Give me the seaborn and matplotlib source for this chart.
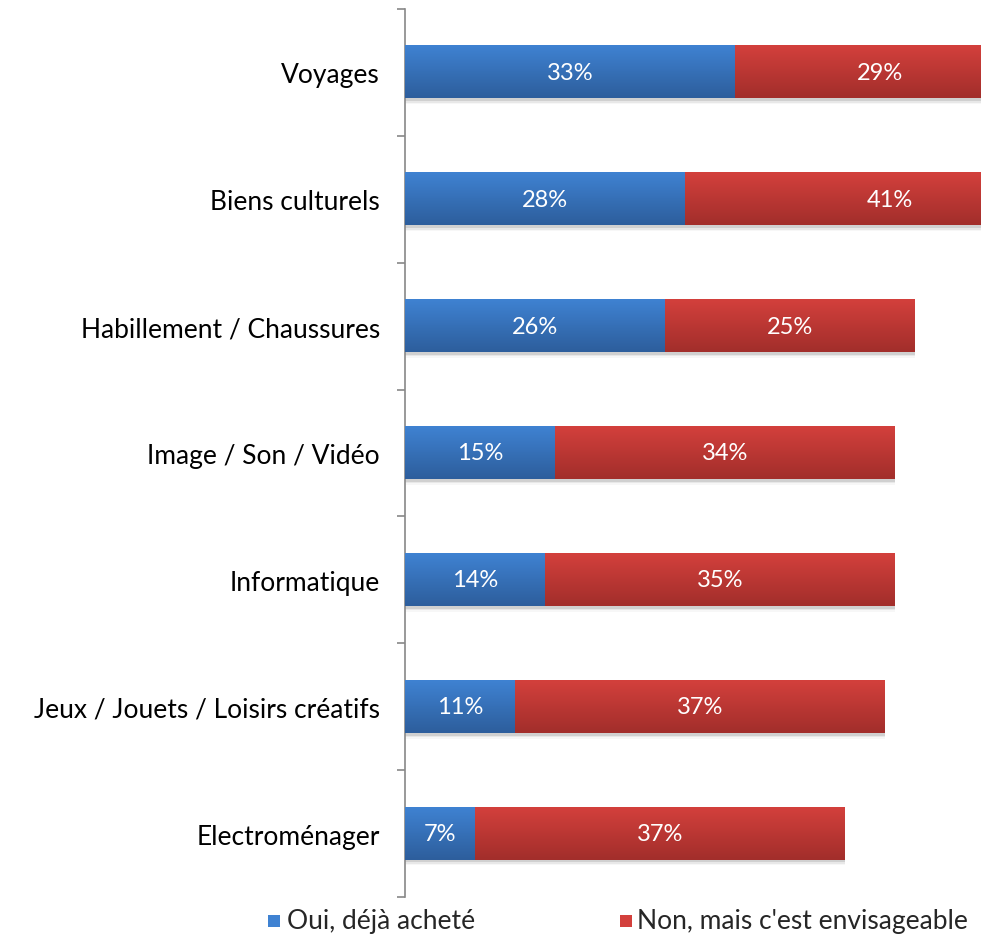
import matplotlib
matplotlib.use("Agg")
import matplotlib.pyplot as plt
import seaborn as sns
import numpy as np
import pandas as pd
from matplotlib.colors import LinearSegmentedColormap
from matplotlib.patches import Rectangle

categories = ["Voyages", "Biens culturels", "Habillement / Chaussures",
              "Image / Son / Vidéo", "Informatique",
              "Jeux / Jouets / Loisirs créatifs", "Electroménager"]
oui = [33, 28, 26, 15, 14, 11, 7]
non = [29, 41, 25, 34, 35, 37, 37]
series_names = ["Oui, déjà acheté", "Non, mais c'est envisageable"]

sns.set_theme(style="white")
plt.rcParams['font.family'] = ['Lato', 'DejaVu Sans']

fig = plt.figure(figsize=(9.81, 9.37), dpi=100)
ax = fig.add_axes([405/981, 1 - 898/937, 1 - 405/981, (898 - 10)/937])

df = pd.DataFrame({"cat": categories, "oui": oui, "non": non})
df["total"] = df["oui"] + df["non"]

blue_top, blue_bot = "#3f82d2", "#2d5e9c"
red_top, red_bot = "#d3403c", "#a22e2b"

sns.barplot(data=df, y="cat", x="total", color=red_top, width=0.41, ax=ax, orient="h")
sns.barplot(data=df, y="cat", x="oui", color=blue_top, width=0.41, ax=ax, orient="h")

xmax = 57.6
ax.set_xlim(0, xmax)
ax.set_ylim(6.5, -0.5)

cm_blue = LinearSegmentedColormap.from_list("b", [blue_top, blue_bot])
cm_red = LinearSegmentedColormap.from_list("r", [red_top, red_bot])
grad = np.linspace(0, 1, 64).reshape(-1, 1)

patches = list(ax.patches)
n = len(categories)
for i, p in enumerate(patches):
    x0, y0 = p.get_x(), p.get_y()
    w, h = p.get_width(), p.get_height()
    cmap = cm_red if i < n else cm_blue
    if i < n:
        for k, a in enumerate([0.10, 0.06, 0.03]):
            sh = Rectangle((x0, y0 + h), min(w, xmax), 0.012 * (k + 1) + 0.01,
                           facecolor="black", alpha=a, edgecolor="none", zorder=1)
            ax.add_patch(sh)
    p.set_visible(False)
    ax.imshow(grad, cmap=cmap, aspect="auto", extent=(x0, x0 + w, y0 + h, y0),
              zorder=2 + (1 if i >= n else 0), interpolation="bilinear")

ax.set_xlim(0, xmax)
ax.set_ylim(6.5, -0.5)

for i in range(n):
    ax.text(oui[i] / 2, i, f"{oui[i]}%", ha="center", va="center",
            color="white", fontsize=17, zorder=5)
    ax.text(oui[i] + non[i] / 2, i, f"{non[i]}%", ha="center", va="center",
            color="white", fontsize=17, zorder=5)

ax.set_xlabel("")
ax.set_ylabel("")
ax.set_xticks([])
ax.set_yticks(range(n))
ax.set_yticklabels(categories, fontsize=19, color="black")
ax.tick_params(axis="y", which="major", length=0, pad=18)
ax.set_yticks(np.arange(-0.5, n, 1), minor=True)
ax.tick_params(axis="y", which="minor", length=6, width=1.2, color="#888888", left=True)
for s in ["top", "right", "bottom"]:
    ax.spines[s].set_visible(False)
ax.spines["left"].set_color("#888888")
ax.spines["left"].set_linewidth(1.2)

ly = 1 - 922/937
fig.patches.append(Rectangle((268/981, 1 - 928/937), 12/981, 12/937,
                             transform=fig.transFigure, facecolor=blue_top, edgecolor="none"))
fig.text(287/981, ly, series_names[0], fontsize=19, va="center", ha="left")
fig.patches.append(Rectangle((620/981, 1 - 928/937), 12/981, 12/937,
                             transform=fig.transFigure, facecolor=red_top, edgecolor="none"))
fig.text(637/981, ly, series_names[1], fontsize=19, va="center", ha="left")

fig.savefig("out.png", dpi=100)
